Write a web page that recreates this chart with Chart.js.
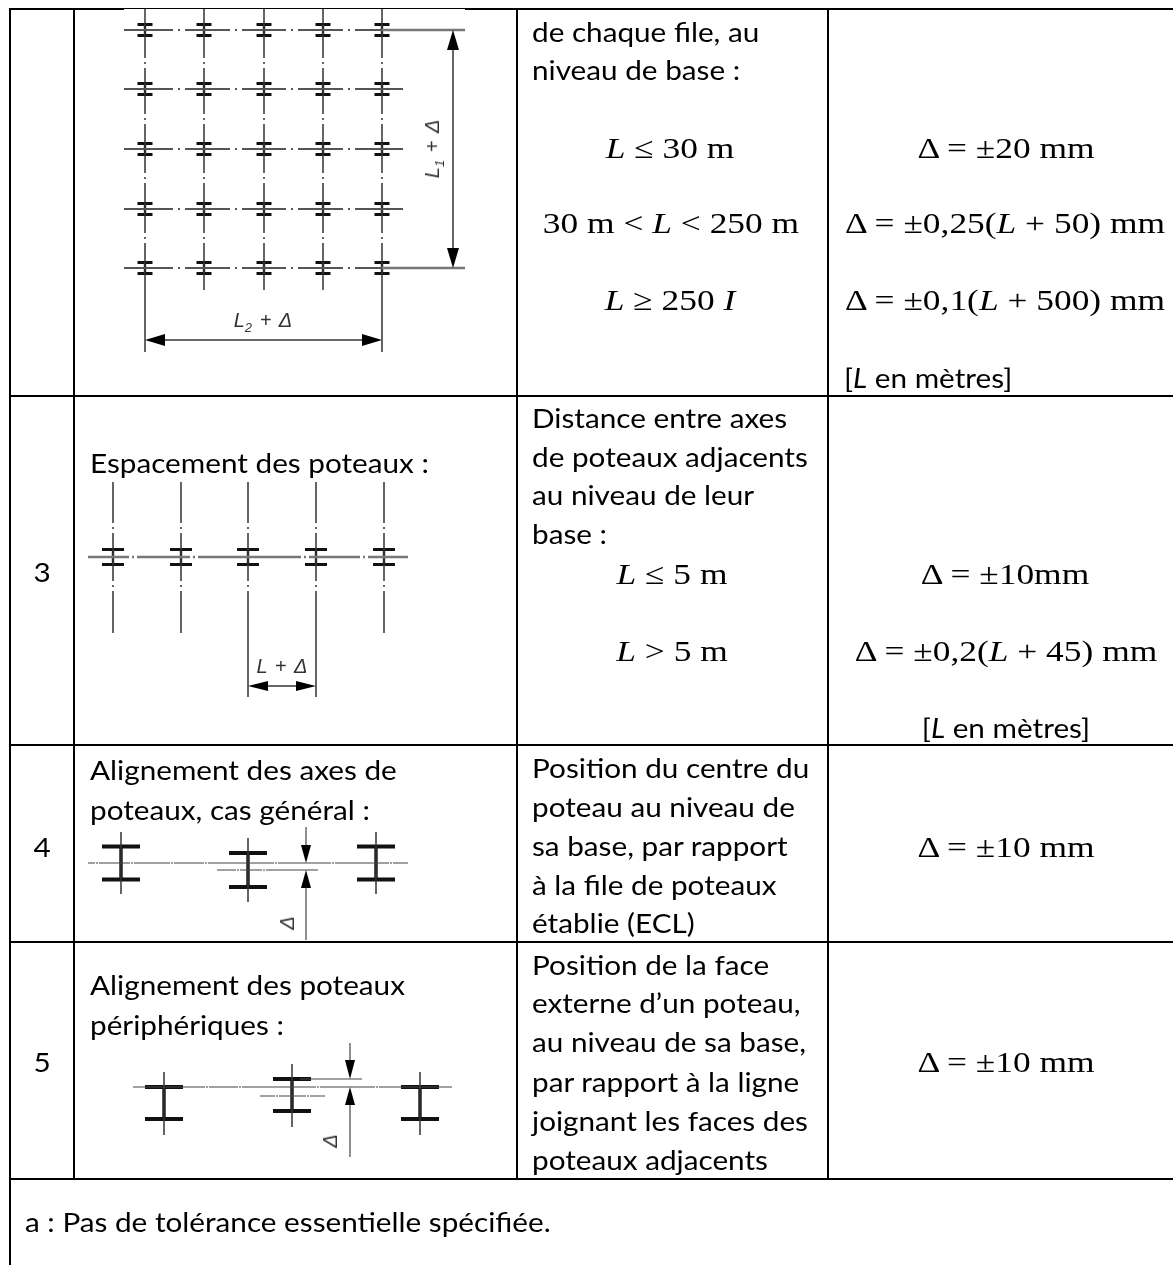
<!DOCTYPE html>
<html lang="fr">
<head>
<meta charset="utf-8">
<title>Tolérances des poteaux</title>
<script src="https://cdn.jsdelivr.net/npm/chart.js@4"></script>
<style>
  html,body{margin:0;background:#fff;}
  #page{position:relative;width:1173px;height:1265px;overflow:hidden;}
  canvas{position:absolute;left:0;top:0;}
  #drawing{filter:blur(.6px);}
  .t{position:absolute;white-space:nowrap;color:#000;line-height:1;}
  .txt{font-family:Lato,"Noto Sans",sans-serif;font-size:27.5px;transform:translateY(-50%) scaleX(1.08);transform-origin:left center;}
  .txt.mid{transform:translate(-50%,-50%) scaleX(1.08);transform-origin:center;}
  .math{font-family:"Liberation Serif",serif;font-size:30px;transform:translate(-50%,-50%) scaleX(1.18);transform-origin:center;}
  .fig{font-family:"Liberation Sans",sans-serif;font-size:20px;font-style:italic;color:#333;word-spacing:2px;transform:translate(-50%,-50%);filter:blur(.5px);}
  .fig.rot{transform:translate(-50%,-50%) rotate(-90deg);}
  sub{font-size:.65em;}
</style>
</head>
<body>
<div id="page">
  <canvas id="rules" width="1173" height="1265"></canvas>
  <canvas id="drawing" width="1173" height="1265"></canvas>
  <div id="labels"></div>
</div>
<script>
// Table rules
const ruleRowsY = [396, 745, 942, 1179];
const ruleColsX = [74, 517, 828];

// Figure 2: column grid
const gridColsX = [145, 204, 264, 323, 382];
const gridRowsY = [30, 89, 149, 209, 268];
const gridBreaksX = [179, 236, 292, 349];
const gridBreaksY = [63, 119, 178, 238];

// Figure 3: spacing
const spacingColsX = [113, 181, 248, 316, 384];
const spacingAxisY = 557;
const spacingBreaksX = [133, 194, 305, 364];
const spacingBreaksY = [528, 586];

// Figure 4: axis alignment
const alignColsX = [121, 248, 376];
const alignColsY = [863, 870, 863];
const alignBreaksX = [97, 132, 172, 206, 276, 333, 391];

// Figure 5: edge alignment
const edgeColsX = [164, 292, 420];
const edgeFlangeY = [1087, 1079, 1087];
const edgeBreaksX = [207, 240, 318, 377];

// Text
const textLines = [
  ['3',42,572,'txt mid'],['4',42,847,'txt mid'],['5',42,1062,'txt mid'],
  ['de chaque file, au',532,32,'txt'],['niveau de base :',532,70,'txt'],
  ['<i>L</i> ≤ 30 m',670,148,'math'],['30 m &lt; <i>L</i> &lt; 250 m',671,223,'math'],['<i>L</i> ≥ 250 <i>I</i>',670,300,'math'],
  ['Δ = ±20 mm',1006,148,'math'],['Δ = ±0,25(<i>L</i> + 50) mm',1005,223,'math'],['Δ = ±0,1(<i>L</i> + 500) mm',1005,300,'math'],
  ['[<i>L</i> en mètres]',844,378,'txt'],
  ['Espacement des poteaux :',90,463,'txt'],
  ['Distance entre axes',532,418,'txt'],['de poteaux adjacents',532,457,'txt'],['au niveau de leur',532,495,'txt'],['base :',532,534,'txt'],
  ['<i>L</i> ≤ 5 m',672,574,'math'],['<i>L</i> &gt; 5 m',672,651,'math'],
  ['Δ = ±10mm',1005,574,'math'],['Δ = ±0,2(<i>L</i> + 45) mm',1006,651,'math'],['[<i>L</i> en mètres]',1006,728,'txt mid'],
  ['Alignement des axes de',90,770,'txt'],['poteaux, cas général :',90,810,'txt'],
  ['Position du centre du',532,768,'txt'],['poteau au niveau de',532,807,'txt'],['sa base, par rapport',532,846,'txt'],['à la file de poteaux',532,885,'txt'],['établie (ECL)',532,923,'txt'],
  ['Δ = ±10 mm',1006,847,'math'],
  ['Alignement des poteaux',90,985,'txt'],['périphériques :',90,1025,'txt'],
  ['Position de la face',532,965,'txt'],['externe d’un poteau,',532,1003,'txt'],['au niveau de sa base,',532,1042,'txt'],['par rapport à la ligne',532,1082,'txt'],['joignant les faces des',532,1121,'txt'],['poteaux adjacents',532,1160,'txt'],
  ['Δ = ±10 mm',1006,1062,'math'],
  ['a : Pas de tolérance essentielle spécifiée.',25,1222,'txt'],
  ['<i>L</i><sub>2</sub> + Δ',263,322,'fig'],['<i>L</i><sub>1</sub> + Δ',434,149,'fig rot'],
  ['<i>L</i> + Δ',282,666,'fig'],['Δ',287,923,'fig rot'],['Δ',330,1141,'fig rot'],
];

// Helpers
const $ = (sel) => document.querySelector(sel);

// dataset from a list of [x1,y1,x2,y2] strokes
function strokes(list, width, color){
  const data = [];
  list.forEach(s=>{
    data.push({x:s[0],y:s[1]},{x:s[2],y:s[3]},{x:null,y:null});
  });
  return { data, showLine:true, pointRadius:0, borderWidth:width, borderColor:color, borderCapStyle:'butt' };
}
// chain line, dash-dot breaks at the given positions
function chainH(x0, x1, y, breaks, gap=6){
  const out = [];
  let from = x0;
  breaks.forEach(b=>{
    out.push([from,y,b-gap,y],[b-1,y,b+1,y]);
    from = b+gap;
  });
  out.push([from,y,x1,y]);
  return out;
}
function chainV(x, y0, y1, breaks, gap=5){
  const out = [];
  let from = y0;
  breaks.forEach(b=>{
    out.push([x,from,x,b-gap],[x,b-1,x,b+1]);
    from = b+gap;
  });
  out.push([x,from,x,y1]);
  return out;
}
function arrow(x, y, dx, dy, len=20, half=6){
  const bx = x+dx*len, by = y+dy*len;
  return { data:[{x,y},{x:bx+dy*half,y:by+dx*half},{x:bx-dy*half,y:by-dx*half}],
    showLine:true, pointRadius:0, borderWidth:0, fill:'shape', backgroundColor:'#000' };
}
function flanges(x, y, half, off){
  return [[x-half,y-off,x+half,y-off],[x-half,y+off,x+half,y+off]];
}

// Figures
function buildFigures(){
  const sets = [];
  const axes = [], bold = [], webs = [], flgs = [], cores = [], heavy = [], heavyCores = [], dims = [], thin = [];

  // figure 2
  gridRowsY.forEach((y,i)=>{
    axes.push(...chainH(124,(i===0||i===4)?382:403,y,gridBreaksX));
    gridColsX.forEach(x=>{
      flgs.push(...flanges(x,y,7.5,5.5));
      cores.push([x,y-5,x,y+5]);
    });
  });
  bold.push([382,30,465,30],[382,268,465,268]);
  gridColsX.forEach((x,i)=>{
    webs.push(...chainV(x,9,(i===0||i===4)?352:290,gridBreaksY));
  });
  dims.push([453,40,453,258],[155,340,372,340]);
  sets.push(arrow(453,30,0,1),arrow(453,268,0,-1),arrow(145,340,1,0),arrow(382,340,-1,0));

  // figure 3
  bold.push(...chainH(88,408,spacingAxisY,spacingBreaksX,4));
  spacingColsX.forEach((x,i)=>{
    flgs.push(...flanges(x,spacingAxisY,11,7.5));
    cores.push([x,spacingAxisY-7,x,spacingAxisY+7]);
    webs.push(...chainV(x,482,(i===2||i===3)?697:633,spacingBreaksY));
  });
  dims.push([258,686,306,686]);
  sets.push(arrow(248,686,1,0,20,5),arrow(316,686,-1,0,20,5));

  // figure 4
  thin.push(...chainH(88,408,863,alignBreaksX,2));
  thin.push(...chainH(217,318,870,[238,264],2));
  alignColsX.forEach((x,i)=>{
    const mid = alignColsY[i];
    const off = i===1 ? 17 : 16.5;
    heavy.push(...flanges(x,mid,19,off));
    heavyCores.push([x,mid-off,x,mid+off]);
    webs.push([x,i===1?838:832,x,i===1?902:894]);
  });
  thin.push([306,827,306,850],[306,880,306,940]);
  sets.push(arrow(306,863,0,-1,18,5),arrow(306,870,0,1,18,5));

  // figure 5
  thin.push(...chainH(133,452,1087,edgeBreaksX,2));
  thin.push([300,1079,362,1079]);
  thin.push(...chainH(260,325,1096,[277,308],2));
  edgeColsX.forEach((x,i)=>{
    const top = edgeFlangeY[i];
    heavy.push([x-19,top,x+19,top],[x-19,top+32,x+19,top+32]);
    heavyCores.push([x,top,x,top+32]);
    webs.push([x,top-15,x,top+48]);
  });
  thin.push([350,1043,350,1062],[350,1100,350,1157]);
  sets.push(arrow(350,1079,0,-1,19,5),arrow(350,1087,0,1,18,5));

  sets.push(strokes(axes,1.8,'#555'));
  sets.push(strokes(bold,2.4,'#777'));
  sets.push(strokes(thin,1.2,'#444'));
  sets.push(strokes(webs,1.5,'#333'));
  sets.push(strokes(cores,2.4,'#222'));
  sets.push(strokes(heavyCores,3.4,'#111'));
  sets.push(strokes(flgs,3,'#111'));
  sets.push(strokes(heavy,3.8,'#111'));
  sets.push(strokes(dims,2,'#666'));
  return sets;
}

function buildRules(){
  const list = [];
  ruleRowsY.forEach(y=>list.push([9,y,1173,y]));
  ruleColsX.forEach(x=>list.push([x,9,x,1179]));
  list.push([10,8,10,1265],[9,9,124,9],[465,9,1173,9]);
  return [strokes(list,2,'#000'), strokes([[124,8.5,465,8.5]],1,'#000')];
}

function makeChart(id, datasets){
  return new Chart($(id), {
    type:'scatter',
    data:{ datasets },
    options:{
      responsive:false, animation:false,
      layout:{ padding:0 },
      plugins:{ legend:{display:false}, tooltip:{enabled:false} },
      scales:{
        x:{ type:'linear', min:0, max:1173, display:false },
        y:{ type:'linear', min:0, max:1265, reverse:true, display:false }
      }
    }
  });
}

makeChart('#rules', buildRules());
makeChart('#drawing', buildFigures());

$('#labels').innerHTML = textLines.map(([t,x,y,c]) =>
  `<div class="t ${c}" style="left:${x}px;top:${y}px">${t}</div>`).join('');
</script>
</body>
</html>
